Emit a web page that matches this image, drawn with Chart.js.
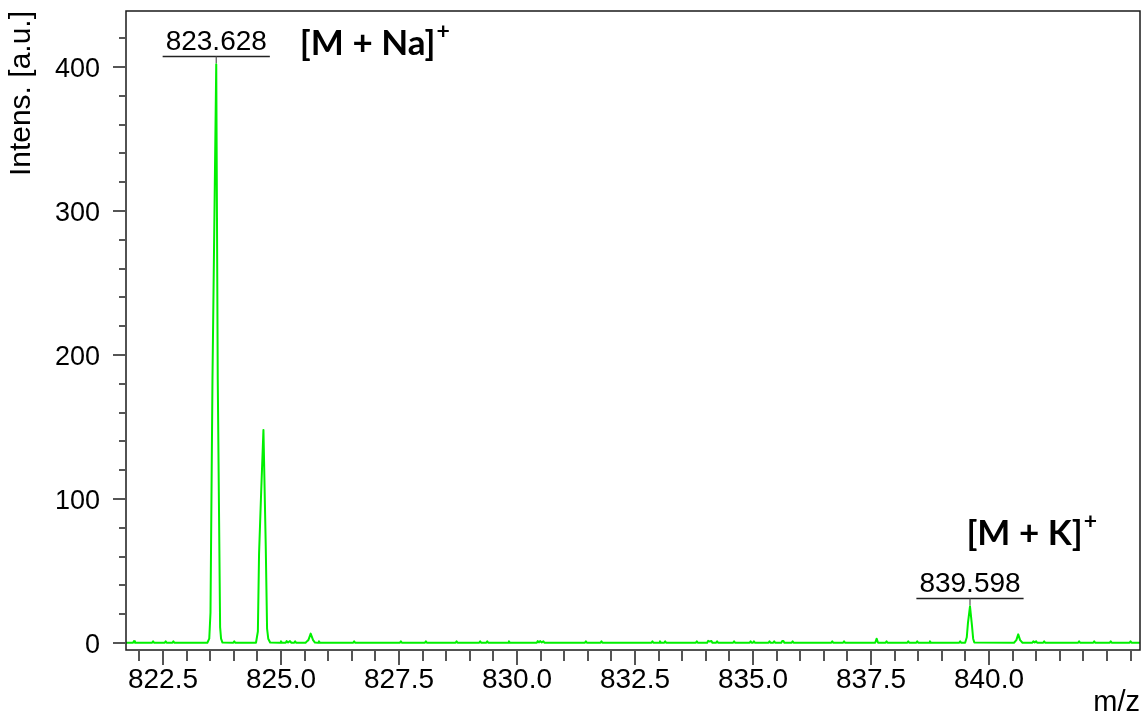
<!DOCTYPE html>
<html>
<head>
<meta charset="utf-8">
<script src="https://cdn.jsdelivr.net/npm/chart.js@4.4.1/dist/chart.umd.min.js"></script>
<style>
  body { margin: 0; background: #fff; }
  #wrap { width: 1143px; height: 717px; }
</style>
</head>
<body>
<div id="wrap"><canvas id="spectrum" width="1143" height="717"></canvas></div>
<script>
// spectrum, split in three stretches (m/z, intensity)
const naRegionMz = [
  821.716, 821.866, 821.886, 821.906,
  822.27, 822.29, 822.31,
  822.537, 822.557, 822.577,
  822.70, 822.72, 822.74,
  823.44, 823.48, 823.506, 823.548, 823.628, 823.66, 823.71, 823.73, 823.76,
  823.99, 824.01, 824.03,
  824.47, 824.51, 824.535, 824.58, 824.628, 824.677, 824.705, 824.73, 824.77,
  824.98, 825.00, 825.02,
  825.10, 825.12, 825.15, 825.19, 825.22,
  825.28, 825.30, 825.32,
  825.52, 825.56, 825.58, 825.629, 825.68, 825.72,
  825.785, 825.805, 825.825,
  826.53, 826.55, 826.57
]
const naRegionIntens = [
  0.2, 0.2, 1.3, 0.2,
  0.2, 1.2, 0.2,
  0.2, 1.2, 0.2,
  0.2, 1.2, 0.2,
  0.2, 3, 21, 183, 402, 183, 11, 3, 0.3,
  0.2, 1.2, 0.2,
  0.2, 8, 62, 105, 148, 67, 10, 3, 0.4,
  0.2, 1.2, 0.2,
  0.2, 1.3, 0.3, 1.3, 0.2,
  0.2, 1.2, 0.2,
  0.2, 1.5, 2, 6.5, 2, 0.3,
  0.2, 1.2, 0.2,
  0.2, 1.2, 0.2
]
const midRegionMz = [
  826.60, 827.52, 827.54, 827.56,
  828.05, 828.07, 828.09,
  828.70, 828.72, 828.74,
  829.20, 829.22, 829.24,
  829.35, 829.37, 829.39,
  829.81, 829.83, 829.85,
  830.42, 830.44, 830.465, 830.49, 830.525, 830.56, 830.58,
  831.44, 831.46, 831.48,
  831.77, 831.79, 831.81,
  832.85, 832.87, 832.89,
  833.01, 833.03, 833.05,
  833.12, 833.14, 833.16,
  833.79, 833.81, 833.83,
  834.03, 834.05, 834.085, 834.12, 834.14,
  834.22, 834.24, 834.26,
  834.58, 834.60, 834.62,
  834.93, 834.95, 834.97,
  835.00, 835.02, 835.04,
  835.33, 835.35, 835.37,
  835.43, 835.45, 835.47,
  835.60, 835.62, 835.645, 835.665,
  835.82, 835.84, 835.86,
  836.66, 836.68, 836.70,
  836.91, 836.93, 836.95,
  837.59, 837.62, 837.65,
  837.81, 837.83, 837.85,
  838.27, 838.29, 838.31,
  838.46, 838.48, 838.50,
  838.73, 838.75, 838.77,
  839.37, 839.39, 839.41
]
const midRegionIntens = [
  0.2, 0.2, 1.2, 0.2,
  0.2, 1.2, 0.2,
  0.2, 1.2, 0.2,
  0.2, 1.2, 0.2,
  0.2, 1.2, 0.2,
  0.2, 1.2, 0.2,
  0.2, 1.3, 0.4, 1.3, 0.4, 1.2, 0.2,
  0.2, 1.2, 0.2,
  0.2, 1.2, 0.2,
  0.2, 1.2, 0.2,
  0.2, 1.2, 0.2,
  0.2, 1.2, 0.2,
  0.2, 1.2, 0.2,
  0.2, 1.5, 1.0, 1.4, 0.2,
  0.2, 1.2, 0.2,
  0.2, 1.2, 0.2,
  0.2, 1.2, 0.2,
  0.2, 1.2, 0.2,
  0.2, 1.2, 0.2,
  0.2, 1.2, 0.2,
  0.2, 1.4, 1.4, 0.2,
  0.2, 1.2, 0.2,
  0.2, 1.2, 0.2,
  0.2, 1.2, 0.2,
  0.2, 3.0, 0.2,
  0.2, 1.2, 0.2,
  0.2, 1.2, 0.2,
  0.2, 1.2, 0.2,
  0.2, 1.2, 0.2,
  0.2, 1.2, 0.2
]
const kRegionMz = [
  839.495, 839.53, 839.555, 839.598, 839.64, 839.665, 839.69,
  840.53, 840.58, 840.62, 840.66, 840.71,
  840.92, 840.94, 840.97, 841.00, 841.02,
  841.15, 841.17, 841.19,
  841.89, 841.91, 841.93,
  842.21, 842.23, 842.25,
  842.56, 842.58, 842.60,
  842.98, 843.00, 843.02, 843.2
]
const kRegionIntens = [
  0.2, 4, 14, 25.5, 12, 3, 0.3,
  0.2, 2, 6, 2, 0.2,
  0.2, 1.2, 0.3, 1.2, 0.2,
  0.2, 1.2, 0.2,
  0.2, 1.2, 0.2,
  0.2, 1.2, 0.2,
  0.2, 1.2, 0.2,
  0.2, 1.2, 0.2, 0.2
]

// labelled peaks
const peakMz = [823.628, 839.598]
const peakIntens = [402, 25.5]
const peakText = ['823.628', '839.598']
const ionText = ['[M + Na]', '[M + K]']

// axis ticks
const xMajorTicks = [822.5, 825.0, 827.5, 830.0, 832.5, 835.0, 837.5, 840.0]
const yMajorTicks = [0, 100, 200, 300, 400]

const FONT = '"Liberation Sans", Arial, sans-serif'
const ION_FONT = 'Lato, "Open Sans", sans-serif'
const ionPlacement = [
  { anchor: 'right', dx: 30, dy: -2 },
  { anchor: 'left', dx: 50, dy: -54 }
]

const mz = naRegionMz.concat(midRegionMz, kRegionMz)
const intens = naRegionIntens.concat(midRegionIntens, kRegionIntens)
const points = mz.map((m, i) => ({ x: m, y: intens[i] }))

const isMajorX = (v) => xMajorTicks.some((t) => Math.abs(t - v) < 1e-6)

const spectrumDecor = {
  id: 'spectrumDecor',
  afterDatasetsDraw(chart) {
    const { ctx, chartArea: a } = chart
    const x = chart.scales.x
    const y = chart.scales.y
    ctx.save()

    ctx.strokeStyle = '#1a1a1a'
    ctx.lineWidth = 1.5
    ctx.strokeRect(a.left, a.top, a.right - a.left, a.bottom - a.top)

    ctx.strokeStyle = '#555'
    ctx.lineWidth = 2
    ctx.beginPath()
    x.ticks.forEach((t) => {
      const px = Math.round(x.getPixelForValue(t.value))
      const len = isMajorX(t.value) ? 15 : 11
      ctx.moveTo(px, a.bottom + 1)
      ctx.lineTo(px, a.bottom + len)
    })
    y.ticks.forEach((t) => {
      const py = Math.round(y.getPixelForValue(t.value))
      const len = yMajorTicks.includes(t.value) ? 13 : 7
      ctx.moveTo(a.left - 1, py)
      ctx.lineTo(a.left - len, py)
    })
    ctx.stroke()

    peakMz.forEach((m, i) => {
      const px = x.getPixelForValue(m)
      const py = y.getPixelForValue(peakIntens[i])
      const lineY = Math.round(py - 8) + 0.5
      ctx.font = '28px ' + FONT
      ctx.fillStyle = '#000'
      ctx.textAlign = 'center'
      ctx.textBaseline = 'alphabetic'
      const w = ctx.measureText(peakText[i]).width
      ctx.fillText(peakText[i], px, lineY - 7)
      const left = px - w / 2 - 3
      const right = px + w / 2 + 3
      ctx.strokeStyle = '#222'
      ctx.lineWidth = 1.5
      ctx.beginPath()
      ctx.moveTo(left, lineY)
      ctx.lineTo(right, lineY)
      ctx.stroke()
      ctx.strokeStyle = '#555'
      ctx.lineWidth = 1.2
      ctx.beginPath()
      ctx.moveTo(px, lineY)
      ctx.lineTo(px, py - 1)
      ctx.stroke()

      // ion name with superscript charge
      const place = ionPlacement[i]
      const ix = (place.anchor === 'right' ? right : left) + place.dx
      const iy = lineY + place.dy
      ctx.textAlign = 'left'
      ctx.font = 'bold 35px ' + ION_FONT
      ctx.fillText(ionText[i], ix, iy)
      const iw = ctx.measureText(ionText[i]).width
      ctx.font = 'bold 23px ' + ION_FONT
      ctx.fillText('+', ix + iw + 1, iy - 16)
    })
    ctx.restore()
  }
}

new Chart(document.getElementById('spectrum'), {
  type: 'scatter',
  data: {
    datasets: [
      {
        data: points,
        showLine: true,
        borderColor: '#00f000',
        borderWidth: 2,
        pointRadius: 0,
        tension: 0,
        borderJoinStyle: 'round'
      }
    ]
  },
  options: {
    responsive: false,
    animation: false,
    devicePixelRatio: 1,
    layout: { padding: { top: 11, right: 3, left: 0, bottom: 0 } },
    plugins: { legend: { display: false }, tooltip: { enabled: false } },
    scales: {
      x: {
        type: 'linear',
        min: 821.716,
        max: 843.2,
        afterBuildTicks: (s) => {
          const vals = []
          for (let v = 822.0; v <= 843.0 + 1e-9; v += 0.5) vals.push(Math.round(v * 10) / 10)
          s.ticks = vals.map((v) => ({ value: v }))
        },
        afterFit: (s) => {
          s.height = 67
          s.paddingLeft = 0
          s.paddingRight = 0
        },
        grid: { display: false, drawTicks: false },
        border: { display: false },
        ticks: {
          autoSkip: false,
          maxRotation: 0,
          padding: 13,
          color: '#000',
          font: { family: FONT, size: 28 },
          callback: (v) => (isMajorX(v) ? Number(v).toFixed(1) : '')
        },
        title: {
          display: true,
          text: 'm/z',
          align: 'end',
          color: '#000',
          font: { family: FONT, size: 29, lineHeight: 1 },
          padding: 0
        }
      },
      y: {
        min: -4.86,
        max: 438.9,
        afterBuildTicks: (s) => {
          const vals = []
          for (let v = 0; v <= 420; v += 20) vals.push(v)
          s.ticks = vals.map((v) => ({ value: v }))
        },
        afterFit: (s) => {
          s.width = 126
          s.paddingTop = 0
          s.paddingBottom = 0
        },
        grid: { display: false, drawTicks: false },
        border: { display: false },
        ticks: {
          autoSkip: false,
          padding: 26,
          labelOffset: 3,
          color: '#000',
          font: { family: FONT, size: 27 },
          callback: (v) => (yMajorTicks.includes(v) ? String(v) : '')
        },
        title: {
          display: true,
          text: 'Intens. [a.u.]',
          align: 'end',
          color: '#000',
          font: { family: FONT, size: 30, lineHeight: 1 },
          padding: { top: 7, bottom: 0 }
        }
      }
    }
  },
  plugins: [spectrumDecor]
})
</script>
</body>
</html>
